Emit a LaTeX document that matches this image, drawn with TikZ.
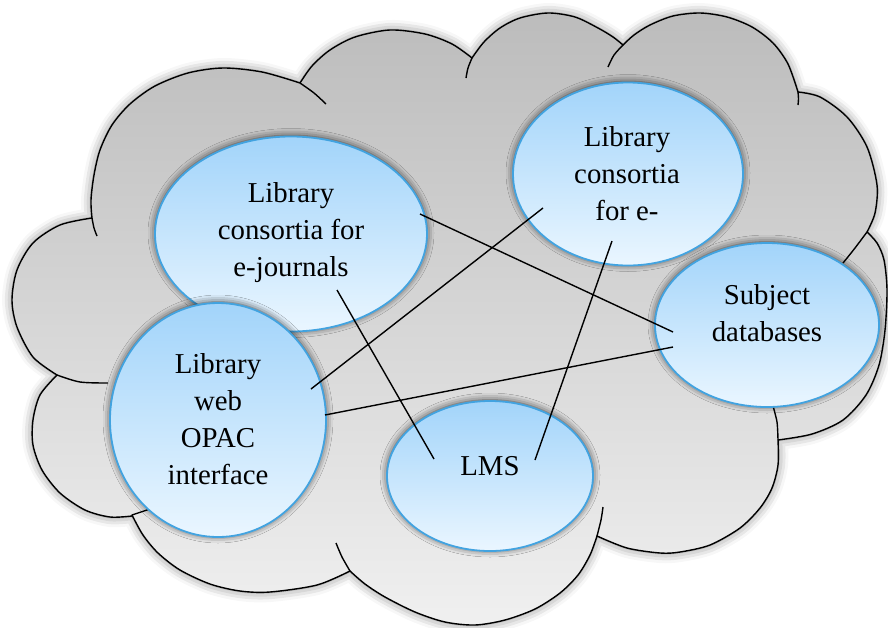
\documentclass[tikz,border=0pt]{standalone}
\usepackage{fontspec}
\setmainfont{Liberation Serif}
\usetikzlibrary{shapes.geometric,shadows.blur}
\definecolor{cloudTop}{RGB}{188,188,188}
\definecolor{cloudMid}{RGB}{200,200,200}
\definecolor{cloudBot}{RGB}{240,240,240}
\definecolor{ellTop}{RGB}{162,212,250}
\definecolor{ellBot}{RGB}{234,246,255}
\definecolor{ellEdge}{RGB}{66,163,224}
\begin{document}
\begin{tikzpicture}[x=0.5pt,y=-0.5pt,
  cloudline/.style={line width=0.7pt, draw=black, line join=round},
  bubble/.style={ellipse, draw=ellEdge, line width=0.9pt, top color=ellTop, bottom color=ellBot, inner sep=0pt,
    blur shadow={shadow xshift=0pt, shadow yshift=0.5pt, shadow blur radius=3.5pt, shadow opacity=75}},
  lbl/.style={align=center, font=\fontsize{14.4}{18.5}\selectfont, inner sep=0pt},
  link/.style={line width=0.7pt, black}]
\useasboundingbox (0,0) rectangle (888,627);

% cloud
\shadedraw[cloudline, top color=cloudTop, middle color=cloudMid, bottom color=cloudBot,
  blur shadow={shadow xshift=0pt, shadow yshift=0pt, shadow blur radius=5pt, shadow opacity=50}]
  (92,218)
  -- plot[smooth] coordinates {(92,218) (91,200) (94,175) (100,150) (112,125) (130,104) (155,86) (188,73) (223,68) (262,72) (300,83)}
  -- plot[smooth] coordinates {(300,83) (312,66) (330,50) (355,37) (390,30) (425,34) (452,44) (472,58)}
  -- plot[smooth] coordinates {(472,58) (484,42) (500,28) (520,18) (548,13) (575,17) (598,28) (613,37) (623,45)}
  -- plot[smooth] coordinates {(623,45) (634,35) (650,25) (673,16) (700,13) (727,17) (752,27) (773,43) (788,64) (798,92)}
  -- plot[smooth] coordinates {(798,92) (820,97) (847,117) (867,147) (877,185) (875,213) (867,232)}
  -- plot[smooth] coordinates {(867,232) (877,243) (884,260) (887,290) (885,330) (879,365) (866,395) (843,420) (812,434) (778,440)}
  -- plot[smooth] coordinates {(778,440) (778,465) (772,488) (760,508) (740,528) (710,545) (680,552) (660,553) (627,548) (597,536)}
  -- plot[smooth] coordinates {(597,536) (590,555) (578,575) (560,593) (535,609) (505,620) (475,625) (445,622) (415,612) (385,597) (365,584) (350,571)}
  -- plot[smooth] coordinates {(350,571) (317,585) (270,592) (240,591) (210,584) (180,570) (158,553) (143,535) (132,515)}
  -- plot[smooth] coordinates {(132,516) (110,517) (85,510) (60,493) (42,470) (33,445) (33,420) (40,395) (57,375)}
  -- plot[smooth] coordinates {(57,375) (33,357) (17,327) (12,300) (17,270) (33,243) (60,225) (92,218)}
  -- cycle;

% inner puff lines
\draw[cloudline] plot[smooth] coordinates {(92,218) (94,228) (97,236)};
\draw[cloudline] plot[smooth] coordinates {(300,83) (314,93) (326,104)};
\draw[cloudline] plot[smooth] coordinates {(472,58) (468,68) (466,78)};
\draw[cloudline] plot[smooth] coordinates {(623,45) (614,55) (608,67)};
\draw[cloudline] plot[smooth] coordinates {(798,92) (798.5,99) (798,105)};
\draw[cloudline] plot[smooth] coordinates {(867,232) (855,248) (843,263)};
\draw[cloudline] plot[smooth] coordinates {(778,440) (777,422) (773,406)};
\draw[cloudline] plot[smooth] coordinates {(597,536) (601,520) (603,507)};
\draw[cloudline] plot[smooth] coordinates {(350,571) (342,557) (336,543)};
\draw[cloudline] plot[smooth] coordinates {(132,515) (141,512) (150,509)};
\draw[cloudline] plot[smooth] coordinates {(57,375) (80,382) (108,383)};

% bubbles
\node[bubble, minimum width=136pt, minimum height=97.5pt] (A) at (291,234) {};
\node[bubble, minimum width=115pt, minimum height=91.5pt] (B) at (628,174) {};
\node[bubble, minimum width=112pt, minimum height=82pt] (C) at (767,325) {};
\node[bubble, minimum width=108pt, minimum height=117pt] (D) at (218,420) {};
\node[bubble, minimum width=103pt, minimum height=75pt] (E) at (490,476) {};

\node[lbl] (At) at (291,233) {Library\\consortia for\\e-journals};
\node[lbl] (Bt) at (627,174) {Library\\consortia\\for e-};
\node[lbl] (Ct) at (767,313) {Subject\\databases};
\node[lbl] (Dt) at (218,419) {Library\\web\\OPAC\\interface};
\node[lbl] (Et) at (490,466) {LMS};

% connector ends
\coordinate (a1) at (420,214);
\coordinate (a2) at (337,290);
\coordinate (b1) at (543,208);
\coordinate (b2) at (612,241);
\coordinate (c1) at (673,332);
\coordinate (c2) at (673,347);
\coordinate (d1) at (311,389);
\coordinate (d2) at (325,415);
\coordinate (e1) at (434,459);
\coordinate (e2) at (535,460);

\draw[link] (a1) -- (c1);
\draw[link] (a2) -- (e1);
\draw[link] (d1) -- (b1);
\draw[link] (b2) -- (e2);
\draw[link] (d2) -- (c2);
\end{tikzpicture}
\end{document}
